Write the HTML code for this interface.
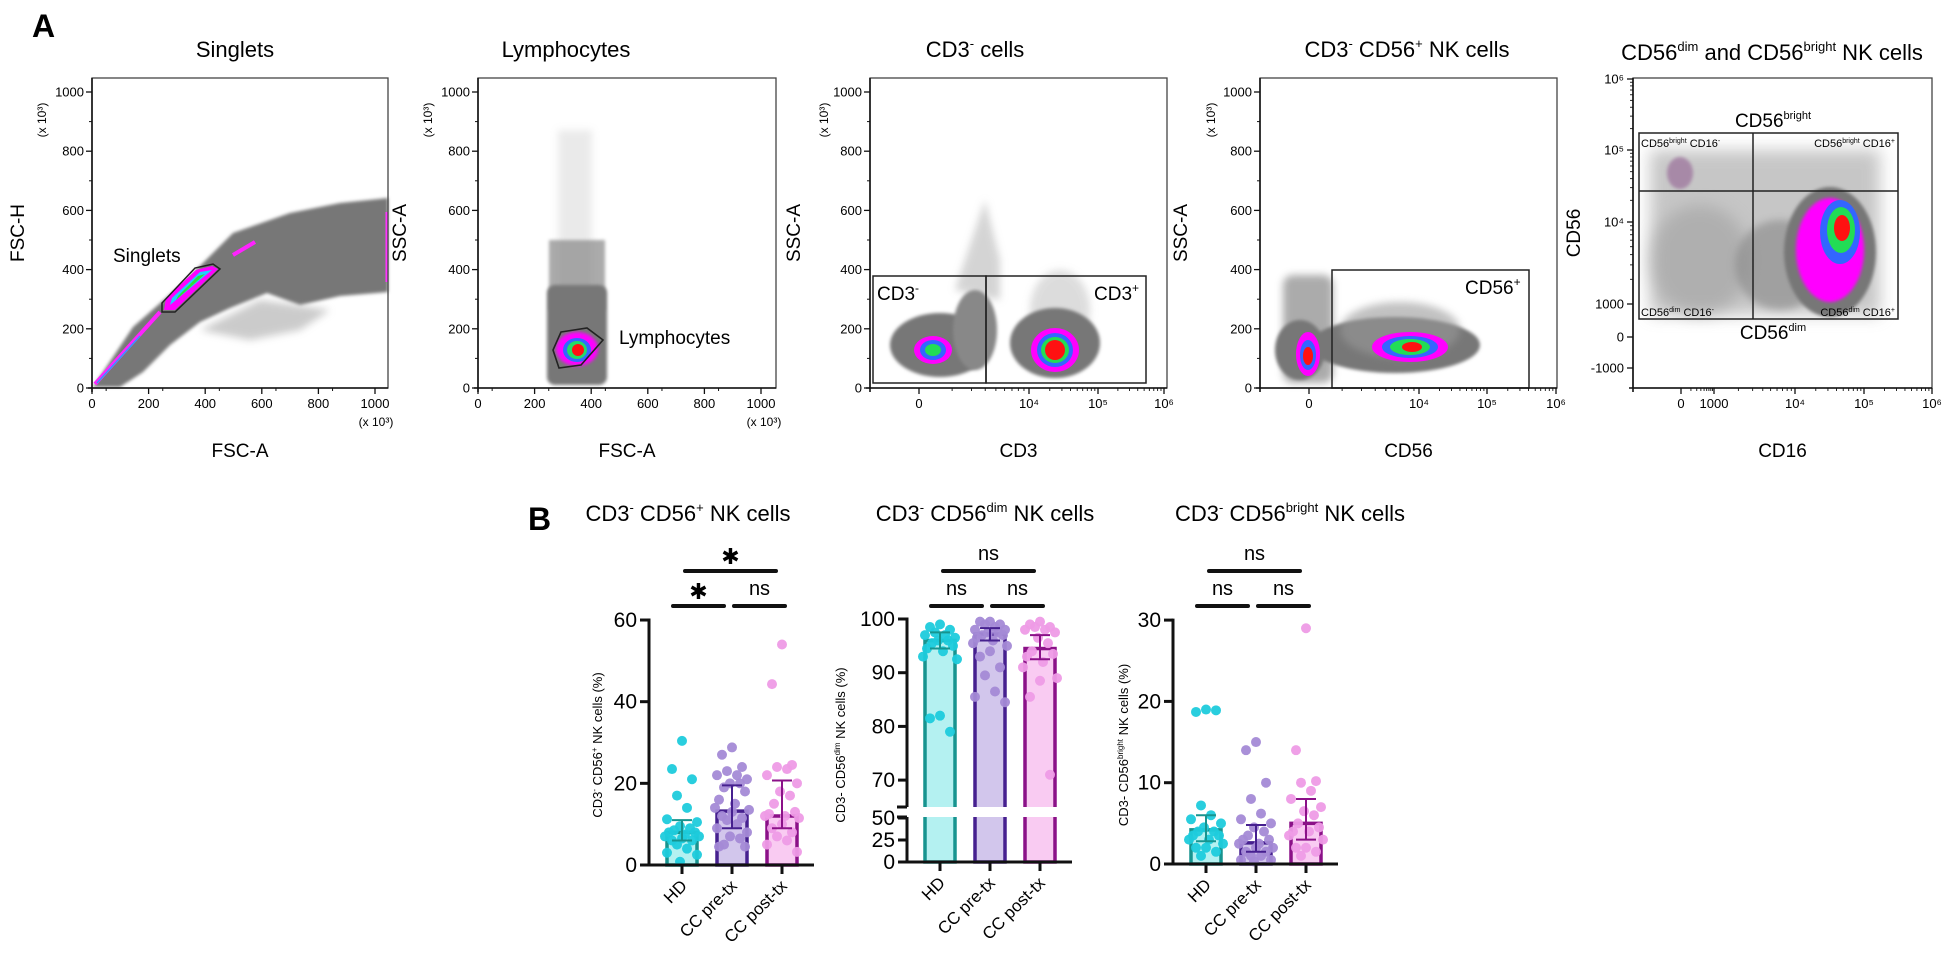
<!DOCTYPE html>
<html><head><meta charset="utf-8">
<style>
html,body{margin:0;padding:0;background:#fff;}
svg{display:block;font-family:"Liberation Sans",sans-serif;}
</style></head>
<body>
<svg id="fig" width="1949" height="960" viewBox="0 0 1949 960" xmlns="http://www.w3.org/2000/svg">
<defs>
<filter id="bl1" x="-20%" y="-20%" width="140%" height="140%"><feGaussianBlur stdDeviation="1.6"/></filter>
<filter id="bl3" x="-30%" y="-30%" width="160%" height="160%"><feGaussianBlur stdDeviation="4"/></filter>
<filter id="bl6" x="-40%" y="-40%" width="180%" height="180%"><feGaussianBlur stdDeviation="8"/></filter>
</defs>
<rect x="0" y="0" width="1949" height="960" fill="#fff"/>

<text x="32" y="37" font-size="32" font-weight="bold">A</text>
<text x="528" y="530" font-size="32" font-weight="bold">B</text>

<text x="235" y="57" font-size="22" text-anchor="middle">Singlets</text>
<text x="566" y="57" font-size="22" text-anchor="middle">Lymphocytes</text>
<text x="975" y="57" font-size="22" text-anchor="middle">CD3<tspan font-size="13" dy="-9">-</tspan><tspan dy="9"> cells</tspan></text>
<text x="1407" y="57" font-size="22" text-anchor="middle">CD3<tspan font-size="13" dy="-9">-</tspan><tspan dy="9"> CD56</tspan><tspan font-size="13" dy="-9">+</tspan><tspan dy="9"> NK cells</tspan></text>
<text x="1772" y="60" font-size="22" text-anchor="middle">CD56<tspan font-size="13" dy="-9">dim</tspan><tspan dy="9"> and CD56</tspan><tspan font-size="13" dy="-9">bright</tspan><tspan dy="9"> NK cells</tspan></text>

<g>
<path d="M93,387 L133,327 L183,283 L233,233 L290,213 L340,203 L388,198 L388,292 L340,296 L300,305 L267,293 L230,308 L200,322 L170,345 L143,372 L120,387 Z" fill="#777" filter="url(#bl1)"/>
<path d="M200,330 L260,300 L330,310 L300,330 L250,340 Z" fill="#999" opacity="0.5" filter="url(#bl3)"/>
<line x1="95" y1="384" x2="160" y2="312" stroke="#ff22ff" stroke-width="4"/>
<line x1="97" y1="383" x2="140" y2="336" stroke="#3399ff" stroke-width="1.5"/>
<line x1="233" y1="255" x2="255" y2="242" stroke="#ff22ff" stroke-width="4"/>
<line x1="387" y1="212" x2="387" y2="282" stroke="#ff33ff" stroke-width="3"/>
<path d="M164,310 L175,310 L218,269 L212,266 L196,270 L166,298 Z" fill="#ff00ff"/>
<path d="M170,305 L212,270 L200,272 L172,298 Z" fill="#22ccff"/>
<path d="M176,300 L205,274 L198,276 L178,296 Z" fill="#33dd33"/>
<path d="M162,312 L175,312 L220,269 L213,264 L195,268 L162,303 Z" fill="none" stroke="#222" stroke-width="1.5"/>
<text x="113" y="262" font-size="19">Singlets</text>
</g>

<g>
<rect x="558" y="130" width="34" height="170" fill="#bbb" opacity="0.3" filter="url(#bl3)"/>
<rect x="549" y="240" width="56" height="70" fill="#888" opacity="0.7" filter="url(#bl1)"/>
<rect x="547" y="285" width="60" height="100" rx="8" fill="#777" filter="url(#bl1)"/>
<ellipse cx="577" cy="349" rx="21" ry="17" fill="#ff00ff" filter="url(#bl1)"/>
<ellipse cx="577" cy="350" rx="14" ry="12" fill="#3366ff"/>
<ellipse cx="577" cy="350" rx="10" ry="9" fill="#22dd66"/>
<ellipse cx="578" cy="350" rx="6" ry="6" fill="#ff1111"/>
<path d="M561,332 L587,328 L603,340 L581,365 L559,368 L553,350 Z" fill="none" stroke="#222" stroke-width="1.6"/>
<text x="619" y="344" font-size="19">Lymphocytes</text>
</g>

<g>
<path d="M955,290 L985,200 L1000,260 L1000,300 Z" fill="#aaa" opacity="0.5" filter="url(#bl3)"/>
<ellipse cx="1060" cy="310" rx="30" ry="40" fill="#bbb" opacity="0.5" filter="url(#bl3)"/>
<ellipse cx="940" cy="345" rx="50" ry="32" fill="#777" filter="url(#bl1)"/>
<ellipse cx="975" cy="330" rx="22" ry="40" fill="#888" filter="url(#bl1)"/>
<ellipse cx="1055" cy="343" rx="45" ry="35" fill="#777" filter="url(#bl1)"/>
<ellipse cx="933" cy="350" rx="19" ry="14" fill="#ff00ff"/>
<ellipse cx="933" cy="350" rx="13" ry="10" fill="#3366ff"/>
<ellipse cx="933" cy="350" rx="8" ry="6" fill="#22dd55"/>
<ellipse cx="1055" cy="350" rx="24" ry="22" fill="#ff00ff"/>
<ellipse cx="1055" cy="350" rx="18" ry="17" fill="#3366ff"/>
<ellipse cx="1055" cy="350" rx="14" ry="13" fill="#22dd55"/>
<ellipse cx="1055" cy="350" rx="10" ry="10" fill="#ff1111"/>
<rect x="873" y="276" width="113" height="107" fill="none" stroke="#222" stroke-width="1.5"/>
<rect x="986" y="276" width="160" height="107" fill="none" stroke="#222" stroke-width="1.5"/>
<text x="877" y="300" font-size="19">CD3<tspan font-size="12" dy="-8">-</tspan></text>
<text x="1094" y="300" font-size="19">CD3<tspan font-size="12" dy="-8">+</tspan></text>
</g>

<g>
<rect x="1283" y="275" width="50" height="108" rx="10" fill="#888" opacity="0.7" filter="url(#bl3)"/>
<ellipse cx="1300" cy="350" rx="25" ry="30" fill="#777" filter="url(#bl1)"/>
<ellipse cx="1395" cy="345" rx="85" ry="28" fill="#777" filter="url(#bl1)"/>
<ellipse cx="1400" cy="330" rx="60" ry="28" fill="#999" opacity="0.6" filter="url(#bl3)"/>
<ellipse cx="1308" cy="354" rx="12" ry="22" fill="#ff00ff"/>
<ellipse cx="1308" cy="355" rx="8" ry="15" fill="#3366ff"/>
<ellipse cx="1308" cy="356" rx="5" ry="9" fill="#ff1111"/>
<ellipse cx="1410" cy="347" rx="38" ry="15" fill="#ff00ff"/>
<ellipse cx="1410" cy="347" rx="28" ry="11" fill="#3366ff"/>
<ellipse cx="1410" cy="347" rx="20" ry="8" fill="#22dd55"/>
<ellipse cx="1412" cy="347" rx="10" ry="5" fill="#ff1111"/>
<rect x="1332" y="270" width="197" height="118" fill="none" stroke="#222" stroke-width="1.5"/>
<text x="1465" y="294" font-size="19">CD56<tspan font-size="12" dy="-8">+</tspan></text>
</g>

<g>
<rect x="1650" y="150" width="230" height="165" fill="#999" opacity="0.55" filter="url(#bl6)"/>
<ellipse cx="1700" cy="260" rx="50" ry="55" fill="#999" opacity="0.5" filter="url(#bl6)"/>
<ellipse cx="1780" cy="265" rx="45" ry="45" fill="#888" opacity="0.6" filter="url(#bl3)"/>
<ellipse cx="1680" cy="173" rx="13" ry="16" fill="#a07aa0" opacity="0.8" filter="url(#bl1)"/>
<ellipse cx="1830" cy="252" rx="46" ry="65" fill="#777" filter="url(#bl1)"/>
<ellipse cx="1830" cy="250" rx="34" ry="52" fill="#ff00ff" filter="url(#bl1)"/>
<ellipse cx="1840" cy="232" rx="20" ry="32" fill="#3366ff"/>
<ellipse cx="1841" cy="230" rx="14" ry="23" fill="#22dd55"/>
<ellipse cx="1842" cy="228" rx="8" ry="13" fill="#ff1111"/>
<rect x="1639" y="133" width="259" height="186" fill="none" stroke="#222" stroke-width="1.5"/>
<line x1="1639" y1="191" x2="1898" y2="191" stroke="#222" stroke-width="1.5"/>
<line x1="1753" y1="133" x2="1753" y2="319" stroke="#222" stroke-width="1.5"/>
<text x="1773" y="127" font-size="19" text-anchor="middle">CD56<tspan font-size="11" dy="-8">bright</tspan></text>
<text x="1773" y="339" font-size="19" text-anchor="middle">CD56<tspan font-size="11" dy="-8">dim</tspan></text>
<text x="1641" y="147" font-size="11">CD56<tspan font-size="7" dy="-4">bright</tspan><tspan dy="4"> CD16</tspan><tspan font-size="7" dy="-4">-</tspan></text>
<text x="1895" y="147" font-size="11" text-anchor="end">CD56<tspan font-size="7" dy="-4">bright</tspan><tspan dy="4"> CD16</tspan><tspan font-size="7" dy="-4">+</tspan></text>
<text x="1641" y="316" font-size="11">CD56<tspan font-size="7" dy="-4">dim</tspan><tspan dy="4"> CD16</tspan><tspan font-size="7" dy="-4">-</tspan></text>
<text x="1895" y="316" font-size="11" text-anchor="end">CD56<tspan font-size="7" dy="-4">dim</tspan><tspan dy="4"> CD16</tspan><tspan font-size="7" dy="-4">+</tspan></text>
</g>

<g id="axes"></g>
<g id="bars"></g>
</svg>

<script>
const NS = 'http://www.w3.org/2000/svg';
function mk(tag, attrs, parent, text) {
  const e = document.createElementNS(NS, tag);
  for (const k in attrs) e.setAttribute(k, attrs[k]);
  if (text !== undefined) e.textContent = text;
  parent.appendChild(e);
  return e;
}
const AX = document.getElementById('axes');

const linTicks = [0, 200, 400, 600, 800, 1000];
const linLabels = ['0', '200', '400', '600', '800', '1000'];
const flowFrames = [
  {x0: 92, x1: 388, yl: 'FSC-H', xl: 'FSC-A', ylx: 24, multx: 46, lab: 'singlets'},
  {x0: 478, x1: 776, yl: 'SSC-A', xl: 'FSC-A', ylx: 406, multx: 432, lab: 'lymphocytes'},
  {x0: 870, x1: 1167, yl: 'SSC-A', xl: 'CD3', ylx: 800, multx: 828, lab: 'cd3'},
  {x0: 1260, x1: 1557, yl: 'SSC-A', xl: 'CD56', ylx: 1187, multx: 1215, lab: 'cd56'},
  {x0: 1633, x1: 1932, yl: 'CD56', xl: 'CD16', ylx: 1580, multx: 0, lab: 'subset'}
];
const plotTop = 78, plotBot = 388;
function yLin(v) { return plotBot - v * 0.296; }

flowFrames.forEach((f, i) => {
  const fr = mk('rect', {x: f.x0, y: plotTop, width: f.x1 - f.x0, height: plotBot - plotTop, fill: 'none', stroke: '#444', 'stroke-width': 1.3}, AX);
  
  
  mk('line', {x1: f.x0, y1: plotTop, x2: f.x0, y2: plotBot + 4, stroke: '#111', 'stroke-width': 1.6}, AX);
  mk('line', {x1: f.x0 - 4, y1: plotBot, x2: f.x1, y2: plotBot, stroke: '#111', 'stroke-width': 1.6}, AX);
  const yt = mk('text', {x: f.ylx, y: 233, 'font-size': 19, 'text-anchor': 'middle', transform: 'rotate(-90 ' + f.ylx + ' 233)'}, AX, f.yl);
  
  
  const xt = mk('text', {x: (f.x0 + f.x1) / 2, y: 457, 'font-size': 19, 'text-anchor': 'middle'}, AX, f.xl);
  
  
  if (i < 4) {
    linTicks.forEach((v, j) => {
      const y = yLin(v);
      mk('line', {x1: f.x0 - 6, y1: y, x2: f.x0, y2: y, stroke: '#111', 'stroke-width': 1.3}, AX);
      if (j < 5) mk('line', {x1: f.x0 - 3, y1: yLin(v + 100), x2: f.x0, y2: yLin(v + 100), stroke: '#111', 'stroke-width': 1}, AX);
      const t = mk('text', {x: f.x0 - 8, y: y + 4.5, 'font-size': 13, 'text-anchor': 'end'}, AX, linLabels[j]);
      
      
    });
    const m = mk('text', {x: f.multx, y: 120, 'font-size': 12, 'text-anchor': 'middle', transform: 'rotate(-90 ' + f.multx + ' 120)'}, AX, '(x 10³)');
    
    
  }
  if (i < 2) {
    linTicks.forEach((v, j) => {
      const x = f.x0 + v * 0.283;
      mk('line', {x1: x, y1: plotBot, x2: x, y2: plotBot + 6, stroke: '#111', 'stroke-width': 1.3}, AX);
      if (j < 5) mk('line', {x1: x + 14.15, y1: plotBot, x2: x + 14.15, y2: plotBot + 3, stroke: '#111'}, AX);
      const t = mk('text', {x: x, y: 408, 'font-size': 13, 'text-anchor': 'middle'}, AX, linLabels[j]);
      
      
    });
    const m = mk('text', {x: f.x1 - 12, y: 426, 'font-size': 12, 'text-anchor': 'middle'}, AX, '(x 10³)');
    
    
  }
});

const logX = [
  {vals: [919, 1029, 1098, 1164], labs: ['0', '10⁴', '10⁵', '10⁶']},
  {vals: [1309, 1419, 1487, 1556], labs: ['0', '10⁴', '10⁵', '10⁶']},
  {vals: [1681, 1714, 1795, 1864, 1932], labs: ['0', '1000', '10⁴', '10⁵', '10⁶']}
];
logX.forEach((a) => {
  a.vals.forEach((x, j) => {
    mk('line', {x1: x, y1: plotBot, x2: x, y2: plotBot + 6, stroke: '#111', 'stroke-width': 1.3}, AX);
    const t = mk('text', {x: x, y: 408, 'font-size': 13, 'text-anchor': 'middle'}, AX, a.labs[j]);
    
    
    if (j > 0) {
      const p = a.vals[j - 1];
      for (let m = 2; m < 10; m++) {
        const xm = p + (x - p) * Math.log10(m);
        mk('line', {x1: xm, y1: plotBot, x2: xm, y2: plotBot + 3, stroke: '#111', 'stroke-width': 0.9}, AX);
      }
    }
  });
});
const p5y = [79, 150, 222, 304, 337, 368];
const p5yl = ['10⁶', '10⁵', '10⁴', '1000', '0', '-1000'];
p5y.forEach((y, j) => {
  mk('line', {x1: 1627, y1: y, x2: 1633, y2: y, stroke: '#111', 'stroke-width': 1.3}, AX);
  const t = mk('text', {x: 1624, y: y + 4.5, 'font-size': 13, 'text-anchor': 'end'}, AX, p5yl[j]);
  
  
  if (j < 3) {
    for (let m = 2; m < 10; m++) {
      const ym = p5y[j + 1] - (p5y[j + 1] - y) * Math.log10(m);
      mk('line', {x1: 1630, y1: ym, x2: 1633, y2: ym, stroke: '#111', 'stroke-width': 0.9}, AX);
    }
  }
});

/* ---------- Panel B bar charts ---------- */
const categories = ['HD', 'CC pre-tx', 'CC post-tx'];

const c1Means = [8, 13.2, 12];
const c1Lo = [6, 9, 9];
const c1Hi = [11, 19.5, 20.7];
const c1HD = [30.4, 23.5, 21, 17, 14, 11.2, 10.5, 9.5, 9, 8.5, 8, 8, 7.5, 7, 7, 6.5, 6, 6, 5, 4, 3, 2.5, 0.8];
const c1Pre = [28.8, 27, 24, 23, 22, 22, 21, 20, 20, 19, 18, 16, 15, 14, 13.5, 13, 12, 11.5, 11, 10, 9, 8, 7, 6.5, 5, 4.5, 4.5];
const c1Post = [54, 44.3, 24.5, 24, 23.5, 22, 20, 18, 17, 15, 13, 12.5, 12, 12, 11.5, 10, 9, 8, 7, 6, 5, 3.2];
const c1Ticks = [0, 20, 40, 60];

const c2Means = [96, 97.2, 94.5];
const c2Lo = [94.5, 96, 92.5];
const c2Hi = [97.5, 98.3, 97];
const c2HD = [99, 98.5, 98, 97.5, 97, 97, 96.5, 96, 96, 95.5, 95, 94.5, 94, 93, 92.5, 82, 81.5, 79];
const c2Pre = [99.5, 99.5, 99, 99, 98.5, 98, 98, 97.5, 97.5, 97, 97, 96.5, 96, 95.5, 95, 94, 93, 91, 89.5, 86.5, 85.5, 84.5];
const c2Post = [99.5, 99, 98.5, 98.5, 98, 98, 97.5, 96.5, 95.5, 94, 93.5, 93, 92, 91, 89, 88.5, 85.5, 71];
const c2Ticks = [0, 25, 50, 70, 80, 90, 100];

const c3Means = [4.2, 2.6, 5.0];
const c3Lo = [2.8, 1.5, 3.0];
const c3Hi = [6, 4.8, 8];
const c3HD = [19, 18.7, 18.9, 7.2, 6, 5.5, 5, 4.5, 4, 4, 3.5, 3.5, 3, 3, 2.5, 2, 2, 1.5, 1];
const c3Pre = [15, 14, 10, 8, 6.2, 5.5, 5, 4.5, 4, 3.5, 3, 3, 2.5, 2.5, 2, 2, 1.5, 1.5, 1, 1, 0.5, 0.5, 0.3];
const c3Post = [29, 14, 10.2, 10, 9, 8, 7, 6.5, 6, 5, 4.5, 4, 4, 3.5, 3, 2, 2, 1.5, 1];
const c3Ticks = [0, 10, 20, 30];

const colors = [
  {fill: '#b4f1f1', stroke: '#17948f', dot: '#1ecbdc'},
  {fill: '#d2c6ec', stroke: '#46208f', dot: '#a48ad6'},
  {fill: '#f9cbf2', stroke: '#8b1188', dot: '#ee9be6'}
];
const jit = [0, -10, 10, -5, 5, -15, 15, -2, 8, -8, 13, -13, 3, -17, 17];
const B = document.getElementById('bars');

function drawChart(cfg) {
  const g = mk('g', {}, B);
  
  
  const ax = cfg.axisX, base = cfg.y(0);
  const xs = [ax + 33, ax + 83, ax + 133];
  const groups = [cfg.hd, cfg.pre, cfg.post];
  cfg.means.forEach((m, i) => {
    const r = mk('rect', {x: xs[i] - 15, y: cfg.y(m), width: 30, height: base - cfg.y(m), fill: colors[i].fill, stroke: colors[i].stroke, 'stroke-width': 3.5}, g);
    
    
  });
  groups.forEach((arr, i) => {
    arr.forEach((v, k) => {
      const c = mk('circle', {cx: xs[i] + jit[k % jit.length], cy: cfg.y(v), r: 5, fill: colors[i].dot, opacity: 0.95}, g);
      
      
    });
  });
  cfg.means.forEach((m, i) => {
    const e = mk('path', {d: 'M' + xs[i] + ',' + cfg.y(cfg.lo[i]) + 'V' + cfg.y(cfg.hi[i]) + 'M' + (xs[i] - 10) + ',' + cfg.y(cfg.hi[i]) + 'h20M' + (xs[i] - 10) + ',' + cfg.y(cfg.lo[i]) + 'h20', stroke: colors[i].stroke, 'stroke-width': 2, fill: 'none'}, g);
    
    
  });
  if (cfg.brk) {
    mk('rect', {x: ax - 10, y: cfg.brk[0], width: 170, height: cfg.brk[1] - cfg.brk[0], fill: '#fff'}, g);
    mk('line', {x1: ax - 10, y1: cfg.brk[0], x2: ax, y2: cfg.brk[0], stroke: '#111', 'stroke-width': 3}, g);
    mk('line', {x1: ax - 10, y1: cfg.brk[1], x2: ax, y2: cfg.brk[1], stroke: '#111', 'stroke-width': 3}, g);
    mk('line', {x1: ax, y1: cfg.y(100) - 1.5, x2: ax, y2: cfg.brk[0], stroke: '#111', 'stroke-width': 3}, g);
    mk('line', {x1: ax, y1: cfg.brk[1], x2: ax, y2: base, stroke: '#111', 'stroke-width': 3}, g);
  } else {
    mk('line', {x1: ax, y1: cfg.y(cfg.ticks[cfg.ticks.length - 1]) - 1.5, x2: ax, y2: base, stroke: '#111', 'stroke-width': 3}, g);
  }
  const xa = mk('line', {x1: ax - 1.5, y1: base, x2: ax + 165, y2: base, stroke: '#111', 'stroke-width': 3}, g);
  
  
  cfg.ticks.forEach(v => {
    const y = cfg.y(v);
    mk('line', {x1: ax - 9, y1: y, x2: ax, y2: y, stroke: '#111', 'stroke-width': 3}, g);
    const t = mk('text', {x: ax - 12, y: y + 7, 'font-size': 21, 'text-anchor': 'end'}, g, String(v));
    
    
  });
  xs.forEach((x, i) => {
    mk('line', {x1: x, y1: base, x2: x, y2: base + 9, stroke: '#111', 'stroke-width': 3}, g);
    const t = mk('text', {x: x + 6, y: base + 22, 'font-size': 17, 'text-anchor': 'end', transform: 'rotate(-45 ' + (x + 6) + ' ' + (base + 22) + ')'}, g, categories[i]);
    
    
  });
  const sig = [[ax + 24, ax + 75, 606], [ax + 85, ax + 136, 606], [ax + 36, ax + 127, 571]];
  sig.forEach((s, i) => {
    const l = mk('line', {x1: s[0], y1: s[2], x2: s[1], y2: s[2], stroke: '#111', 'stroke-width': 4, 'stroke-linecap': 'round'}, g);
    
    
    const lab = cfg.sig[i];
    const star = lab === '✱';
    const t = mk('text', {x: (s[0] + s[1]) / 2, y: s[2] - (star ? 7 : 11), 'font-size': star ? 22 : 20, 'text-anchor': 'middle', 'font-family': star ? 'DejaVu Sans, sans-serif' : 'Liberation Sans, sans-serif'}, g, lab);
    
    
  });
  const tx = cfg.titleX, ty = 745;
  const yt = mk('text', {x: tx, y: ty, 'font-size': 13, 'text-anchor': 'middle', transform: 'rotate(-90 ' + tx + ' ' + ty + ')'}, g);
  yt.innerHTML = cfg.ytitle;
  
  
  const ct = mk('text', {x: cfg.headX, y: 521, 'font-size': 22, 'text-anchor': 'middle'}, g);
  ct.innerHTML = cfg.head;
  
  
}

drawChart({name: 'cd56pos-chart', axisX: 649, y: v => 865 - v * 4.083, ticks: c1Ticks,
  means: c1Means, lo: c1Lo, hi: c1Hi, hd: c1HD, pre: c1Pre, post: c1Post,
  sig: ['✱', 'ns', '✱'], titleX: 602,
  ytitle: 'CD3<tspan font-size="8" dy="-5">-</tspan><tspan dy="5"> CD56</tspan><tspan font-size="8" dy="-5">+</tspan><tspan dy="5"> NK cells  (%)</tspan>',
  headX: 688, head: 'CD3<tspan font-size="13" dy="-9">-</tspan><tspan dy="9"> CD56</tspan><tspan font-size="13" dy="-9">+</tspan><tspan dy="9"> NK cells</tspan>'});

drawChart({name: 'cd56dim-chart', axisX: 907, y: v => v >= 60 ? 619 + (100 - v) * 5.37 : 862 - v * 0.88, ticks: c2Ticks,
  means: c2Means, lo: c2Lo, hi: c2Hi, hd: c2HD, pre: c2Pre, post: c2Post, brk: [807, 817],
  sig: ['ns', 'ns', 'ns'], titleX: 845,
  ytitle: 'CD3- CD56<tspan font-size="8" dy="-5">dim</tspan><tspan dy="5"> NK cells (%)</tspan>',
  headX: 985, head: 'CD3<tspan font-size="13" dy="-9">-</tspan><tspan dy="9"> CD56</tspan><tspan font-size="13" dy="-9">dim</tspan><tspan dy="9"> NK cells</tspan>'});

drawChart({name: 'cd56bright-chart', axisX: 1173, y: v => 864 - v * 8.13, ticks: c3Ticks,
  means: c3Means, lo: c3Lo, hi: c3Hi, hd: c3HD, pre: c3Pre, post: c3Post,
  sig: ['ns', 'ns', 'ns'], titleX: 1128,
  ytitle: 'CD3- CD56<tspan font-size="8" dy="-5">bright</tspan><tspan dy="5"> NK cells (%)</tspan>',
  headX: 1290, head: 'CD3<tspan font-size="13" dy="-9">-</tspan><tspan dy="9"> CD56</tspan><tspan font-size="13" dy="-9">bright</tspan><tspan dy="9"> NK cells</tspan>'});
</script>
</body></html>
